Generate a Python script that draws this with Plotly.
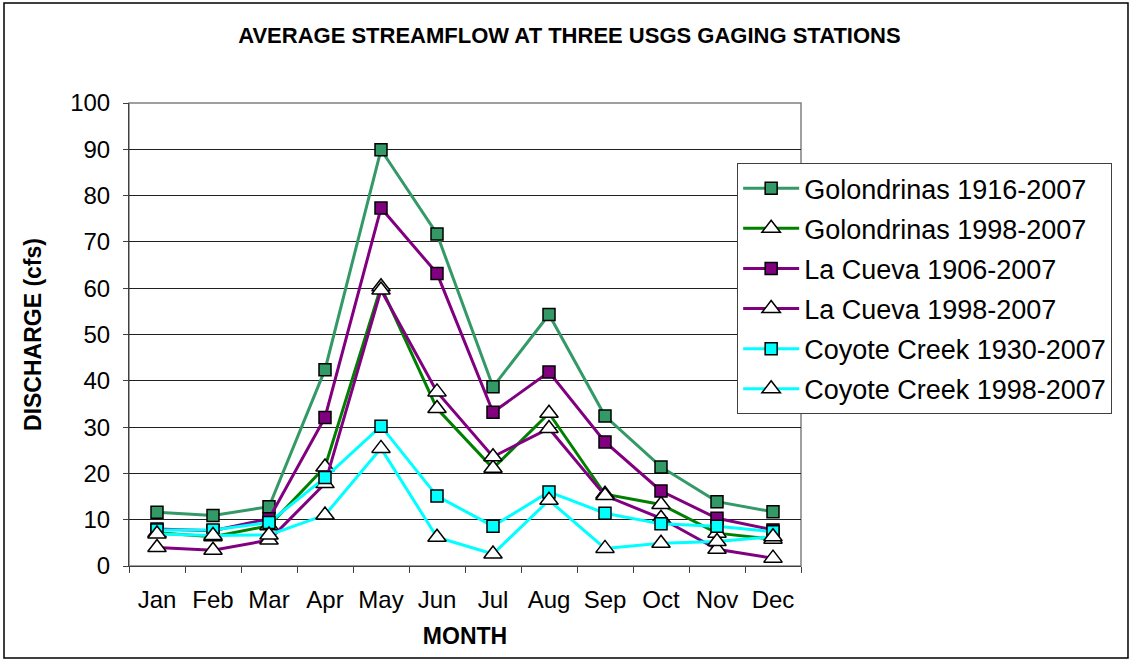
import plotly.graph_objects as go

# monthly average discharge (cfs)
months = ["Jan", "Feb", "Mar", "Apr", "May", "Jun", "Jul", "Aug", "Sep", "Oct", "Nov", "Dec"]

golondrinas_1916 = [11.6, 10.9, 12.8, 42.4, 89.9, 71.7, 38.7, 54.3, 32.4, 21.4, 13.9, 11.7]
golondrinas_1998 = [7.2, 6.3, 8.7, 21.4, 60.3, 34.0, 21.1, 33.0, 15.5, 13.3, 7.1, 5.8]
la_cueva_1906 = [8.0, 7.6, 10.2, 32.1, 77.3, 63.2, 33.2, 41.9, 26.8, 16.2, 10.3, 7.8]
la_cueva_1998 = [4.0, 3.4, 5.6, 17.8, 59.6, 37.6, 23.6, 29.7, 15.2, 10.3, 3.6, 1.7]
coyote_1930 = [7.8, 7.8, 9.4, 19.1, 30.2, 15.1, 8.6, 16.0, 11.4, 9.1, 8.6, 7.4]
coyote_1998 = [6.9, 6.6, 6.7, 11.0, 25.4, 6.2, 2.6, 14.2, 3.8, 4.9, 5.3, 6.3]

series = [
    ("Golondrinas 1916-2007", golondrinas_1916, "#339966", "square", "#339966"),
    ("Golondrinas 1998-2007", golondrinas_1998, "#008000", "triangle-up", "white"),
    ("La Cueva 1906-2007", la_cueva_1906, "#800080", "square", "#800080"),
    ("La Cueva 1998-2007", la_cueva_1998, "#800080", "triangle-up", "white"),
    ("Coyote Creek 1930-2007", coyote_1930, "#00FFFF", "square", "#00FFFF"),
    ("Coyote Creek 1998-2007", coyote_1998, "#00FFFF", "triangle-up", "white"),
]

fig = go.Figure()
for i, (name, vals, color, symbol, fill) in enumerate(series):
    fig.add_trace(go.Scatter(
        x=months,
        y=vals,
        name=name,
        legendgroup=str(i),
        mode="lines+markers",
        line=dict(color=color, width=3),
        marker=dict(
            symbol=symbol,
            size=12 if symbol == "square" else 16,
            color=fill,
            line=dict(color="black", width=1.5),
        ),
    ))

FONT = "Liberation Sans, Arial, sans-serif"

fig.update_layout(
    width=1132,
    height=660,
    paper_bgcolor="white",
    plot_bgcolor="white",
    margin=dict(l=129, r=331, t=103, b=94),
    font=dict(family=FONT, color="black"),
    title=dict(
        text="<b>AVERAGE STREAMFLOW AT THREE USGS GAGING STATIONS</b>",
        font=dict(size=22, family=FONT, color="black"),
        x=0.503,
        xref="container",
        xanchor="center",
        y=0.946,
        yanchor="middle",
    ),
    legend=dict(
        x=0.905,
        y=0.87,
        xanchor="left",
        yanchor="top",
        font=dict(size=27, family=FONT, color="black"),
        bordercolor="#404040",
        borderwidth=1,
        bgcolor="white",
        itemwidth=56,
        tracegroupgap=2,
    ),
    showlegend=True,
)

# outer chart frame
fig.add_shape(
    type="rect", xref="paper", yref="paper",
    x0=-0.186, x1=1.4866, y0=-0.1987, y1=1.216,
    line=dict(color="black", width=1.5), fillcolor="rgba(0,0,0,0)",
    layer="below",
)

fig.update_xaxes(
    type="category",
    range=[-0.5, 11.5],
    tickson="boundaries",
    ticks="outside",
    ticklen=6,
    tickcolor="#404040",
    showline=True,
    linecolor="#404040",
    linewidth=1,
    showgrid=False,
    tickfont=dict(size=24, family=FONT),
    ticklabelstandoff=12,
    title=dict(text="<b>MONTH</b>", font=dict(size=23, family=FONT), standoff=16),
)
fig.update_yaxes(
    range=[0, 100],
    dtick=10,
    ticks="outside",
    ticklen=5,
    tickcolor="#404040",
    showline=True,
    linecolor="#404040",
    linewidth=1,
    showgrid=True,
    gridcolor="#202020",
    gridwidth=1,
    zeroline=False,
    tickfont=dict(size=24, family=FONT),
    ticklabelstandoff=8,
    title=dict(text="<b>DISCHARGE (cfs)</b>", font=dict(size=23, family=FONT), standoff=22),
)

# grey plot-area border on top and right
fig.add_shape(
    type="rect", xref="paper", yref="paper",
    x0=0, x1=1, y0=0, y1=1,
    line=dict(color="#808080", width=1.5),
    layer="below",
)

# drop the default body margin so the figure sits at the window origin
fig.write_html(
    "out.html",
    config={"displayModeBar": False},
    post_script="document.body.style.margin='0';",
)
